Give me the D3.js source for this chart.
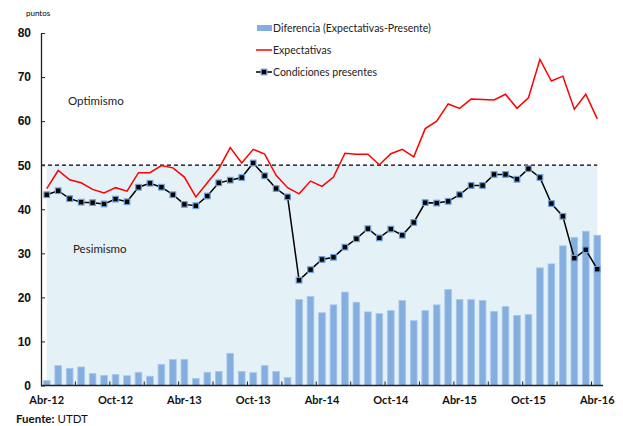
<!DOCTYPE html>
<meta charset="utf-8">
<title>expectativas vs condiciones presentes</title>
<style>
body { margin: 0; background: #fff; }
svg { font-family: Lato, "Open Sans", sans-serif; }
.axis .domain { stroke: #222; stroke-width: 1.3; }
.axis .tick line { stroke: #222; }
</style>
<svg width="623" height="426"></svg>
<script src="https://d3js.org/d3.v7.min.js"></script>
<script>
// meses Abr-12 .. Abr-16
var meses = ["Abr-12","May-12","Jun-12","Jul-12","Ago-12","Sep-12","Oct-12","Nov-12","Dic-12","Ene-13","Feb-13","Mar-13",
  "Abr-13","May-13","Jun-13","Jul-13","Ago-13","Sep-13","Oct-13","Nov-13","Dic-13","Ene-14","Feb-14","Mar-14",
  "Abr-14","May-14","Jun-14","Jul-14","Ago-14","Sep-14","Oct-14","Nov-14","Dic-14","Ene-15","Feb-15","Mar-15",
  "Abr-15","May-15","Jun-15","Jul-15","Ago-15","Sep-15","Oct-15","Nov-15","Dic-15","Ene-16","Feb-16","Mar-16","Abr-16"];

var expectativas = [44.7,48.8,46.7,46.0,44.5,43.7,44.9,44.1,48.3,48.3,49.9,49.4,
  47.3,42.8,46.0,49.2,54.0,50.5,53.6,52.5,47.7,44.9,43.5,46.4,
  45.2,47.3,52.7,52.5,52.5,50.1,52.6,53.6,51.9,58.3,60.0,63.9,
  62.9,65.0,64.9,64.8,66.1,62.9,65.3,74.0,69.1,70.2,62.7,66.1,60.5];

var presentes = [43.3,44.2,42.4,41.6,41.5,41.2,42.3,41.7,45.0,45.9,45.0,43.3,
  41.1,40.8,43.0,46.0,46.6,47.2,50.5,47.6,44.7,42.8,23.9,26.3,
  28.6,29.1,31.4,33.3,35.6,33.5,35.5,34.1,37.0,41.5,41.4,41.8,
  43.3,45.4,45.4,47.9,47.9,46.8,49.2,47.2,41.3,38.4,28.9,30.8,26.4];

var diferencia = [1.1,4.5,3.9,4.2,2.7,2.3,2.5,2.2,3.0,2.1,4.8,5.9,
  5.9,1.6,3.0,3.2,7.3,3.2,2.9,4.5,3.2,1.8,19.5,20.2,
  16.5,18.3,21.2,18.9,16.7,16.3,17.0,19.3,14.7,17.0,18.3,21.8,
  19.5,19.5,19.3,16.8,17.9,15.9,16.1,26.7,27.6,31.7,33.6,35.0,34.1];

var yTicks = [0,10,20,30,40,50,60,70,80];
var etiquetas = ["Abr-12","Oct-12","Abr-13","Oct-13","Abr-14","Oct-14","Abr-15","Oct-15","Abr-16"];
var umbral = 50;

var svg = d3.select("svg");

var x = d3.scaleBand().domain(meses).range([41, 603]).paddingInner(0.42).paddingOuter(0.21);
var xc = function(d) { return x.step() * (meses.indexOf(d) + 0.5) + 41; };
var y = d3.scaleLinear().domain([0, 80]).range([385.5, 33]);

// zona de pesimismo (sombreado hasta 50)
svg.append("path")
  .datum(meses)
  .attr("fill", "#e4f1f6")
  .attr("d", d3.area().x(xc).y0(y(0)).y1(y(umbral)));

// barras
svg.append("g").selectAll("rect")
  .data(meses)
  .enter().append("rect")
  .attr("x", function(d) { return xc(d) - x.bandwidth() / 2; })
  .attr("width", x.bandwidth())
  .attr("y", function(d, i) { return y(diferencia[i]); })
  .attr("height", function(d, i) { return y(0) - y(diferencia[i]); })
  .attr("fill", "#84ade0")
  .attr("stroke", "#a9c7ec")
  .attr("stroke-width", 0.8);

// linea de 50
svg.append("line")
  .attr("x1", 41).attr("x2", xc(meses[meses.length - 1]))
  .attr("y1", y(umbral)).attr("y2", y(umbral))
  .attr("stroke", "#000").attr("stroke-width", 1.3)
  .attr("stroke-dasharray", "4,3");

// expectativas
svg.append("path")
  .datum(expectativas)
  .attr("fill", "none")
  .attr("stroke", "#ff0000")
  .attr("stroke-width", 1.5)
  .attr("d", d3.line().x(function(d, i) { return xc(meses[i]); }).y(function(d) { return y(d); }));

// condiciones presentes
svg.append("path")
  .datum(presentes)
  .attr("fill", "none")
  .attr("stroke", "#000")
  .attr("stroke-width", 1.5)
  .attr("d", d3.line().x(function(d, i) { return xc(meses[i]); }).y(function(d) { return y(d); }));

svg.append("g").selectAll("rect")
  .data(presentes)
  .enter().append("rect")
  .attr("x", function(d, i) { return xc(meses[i]) - 2.8; })
  .attr("y", function(d) { return y(d) - 2.8; })
  .attr("width", 5.6).attr("height", 5.6)
  .attr("fill", "#000")
  .attr("stroke", "#6f9fd8")
  .attr("stroke-width", 1.2);

// eje y
svg.append("g")
  .attr("class", "axis y")
  .attr("transform", "translate(41,0)")
  .call(d3.axisLeft(y).tickValues(yTicks).tickSizeInner(-4).tickSizeOuter(0).tickPadding(10))
  .call(function(g) {
    g.selectAll("text").attr("fill", "#111").attr("font-size", 12).attr("font-weight", "bold");
  });

// eje x: marcas cada 3 meses (entre categorias), etiquetas cada 6
var xAxis = svg.append("g")
  .attr("class", "axis x")
  .attr("transform", "translate(0," + y(0) + ")");
xAxis.append("line")
  .attr("x1", 41).attr("x2", 603)
  .attr("stroke", "#222").attr("stroke-width", 1.3);
xAxis.selectAll(".tk")
  .data(meses.filter(function(d, i) { return i > 0 && i % 3 === 0; }))
  .enter().append("line")
  .attr("x1", function(d) { return xc(d) - x.step() / 2; })
  .attr("x2", function(d) { return xc(d) - x.step() / 2; })
  .attr("y1", 0).attr("y2", -4)
  .attr("stroke", "#222");
xAxis.selectAll("text")
  .data(etiquetas)
  .enter().append("text")
  .attr("x", xc)
  .attr("y", 18)
  .attr("text-anchor", "middle")
  .attr("font-size", 11)
  .attr("font-weight", "bold")
  .attr("fill", "#111")
  .text(function(d) { return d; });

// textos
svg.append("text").attr("x", 26).attr("y", 16).attr("font-size", 8).text("puntos");
svg.append("text").attr("x", 68).attr("y", 105).attr("font-size", 11.5).attr("fill", "#222").text("Optimismo");
svg.append("text").attr("x", 73).attr("y", 253).attr("font-size", 11.5).attr("fill", "#222").text("Pesimismo");

var fuente = svg.append("text").attr("x", 16).attr("y", 423).attr("font-size", 11.5).attr("fill", "#111");
fuente.append("tspan").attr("font-weight", "bold").text("Fuente:");
fuente.append("tspan").text(" UTDT");

// leyenda
var legend = svg.append("g").attr("font-size", 10.5).attr("fill", "#222");
legend.append("rect").attr("x", 257).attr("y", 25).attr("width", 15).attr("height", 6).attr("fill", "#84ade0");
legend.append("text").attr("x", 273).attr("y", 32).text("Diferencia (Expectativas-Presente)");
legend.append("line").attr("x1", 256).attr("x2", 272).attr("y1", 50).attr("y2", 50)
  .attr("stroke", "#ff0000").attr("stroke-width", 1.5);
legend.append("text").attr("x", 273).attr("y", 54).text("Expectativas");
legend.append("line").attr("x1", 256).attr("x2", 272).attr("y1", 72).attr("y2", 72)
  .attr("stroke", "#000").attr("stroke-width", 1.5);
legend.append("rect").attr("x", 261.2).attr("y", 69.2).attr("width", 5.6).attr("height", 5.6)
  .attr("fill", "#000").attr("stroke", "#6f9fd8").attr("stroke-width", 1.2);
legend.append("text").attr("x", 273).attr("y", 76).text("Condiciones presentes");
</script>
